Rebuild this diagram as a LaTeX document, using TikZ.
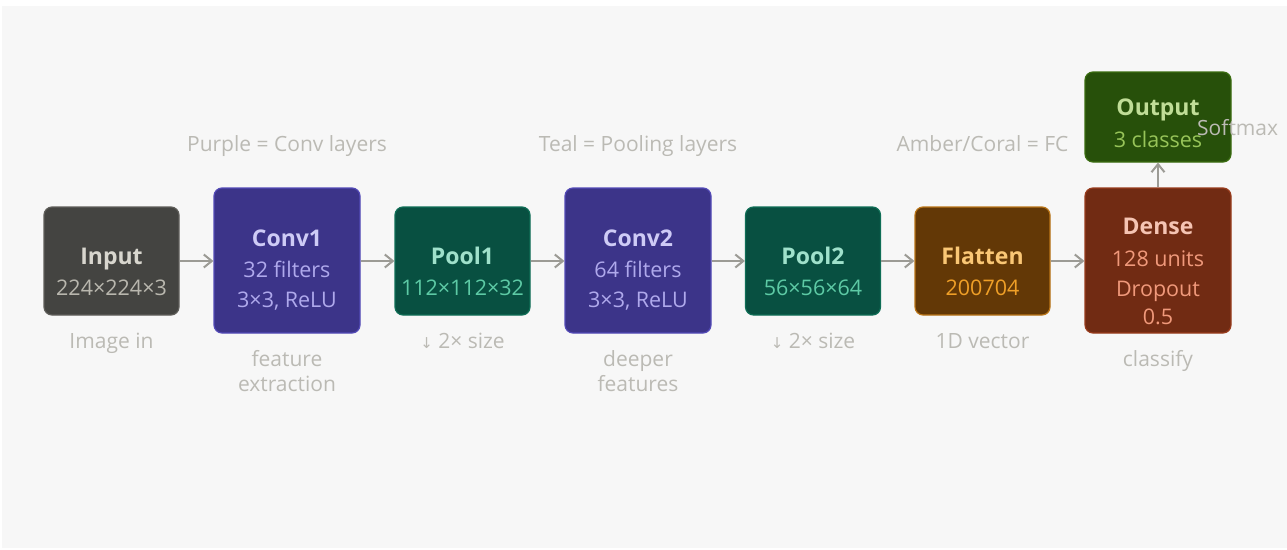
\documentclass[tikz,border=0pt]{standalone}
\usepackage{fontspec}
\setmainfont{Open Sans}
\newfontfamily\symfont{DejaVu Sans}
\usetikzlibrary{arrows.meta}
\definecolor{bgc}{HTML}{F7F7F7}
\definecolor{lblc}{HTML}{BBBAB4}
\definecolor{arrc}{HTML}{9C9B95}
\definecolor{inF}{HTML}{444441}\definecolor{inD}{HTML}{5F5E5A}\definecolor{inT}{HTML}{D8D6CE}\definecolor{inS}{HTML}{B9B7AE}
\definecolor{cvF}{HTML}{3C3489}\definecolor{cvD}{HTML}{534AB7}\definecolor{cvT}{HTML}{CECBF6}\definecolor{cvS}{HTML}{AFA9EC}
\definecolor{plF}{HTML}{085041}\definecolor{plD}{HTML}{0F6E56}\definecolor{plT}{HTML}{9FE1CB}\definecolor{plS}{HTML}{5DCAA5}
\definecolor{flF}{HTML}{633806}\definecolor{flD}{HTML}{BA7517}\definecolor{flT}{HTML}{FAC775}\definecolor{flS}{HTML}{EF9F27}
\definecolor{dnF}{HTML}{712B13}\definecolor{dnD}{HTML}{993C1D}\definecolor{dnT}{HTML}{F5C4B3}\definecolor{dnS}{HTML}{F0997B}
\definecolor{otF}{HTML}{27500A}\definecolor{otD}{HTML}{3B6D11}\definecolor{otT}{HTML}{C0DD97}\definecolor{otS}{HTML}{97C459}
\begin{document}
\begin{tikzpicture}[x=1pt,y=-1pt,
  boxbase/.style={rounded corners=8pt, line width=1.2pt, inner sep=0pt},
  boxS/.style={boxbase, minimum width=135pt, minimum height=108pt},
  boxL/.style={boxbase, minimum width=146pt, minimum height=145pt},
  boxO/.style={boxbase, minimum width=146pt, minimum height=90pt},
  ttl/.style={inner sep=0pt, anchor=base, font=\fontsize{23}{28}\selectfont\bfseries},
  sub/.style={inner sep=0pt, anchor=base, font=\fontsize{21.5}{27}\selectfont},
  lbl/.style={inner sep=0pt, anchor=base, text=lblc, align=center, font=\fontsize{21}{25.5}\selectfont},
  arr/.style={draw=arrc, line width=2pt, -{Straight Barb[length=8pt,width=13pt]}}
]
\useasboundingbox (0,0) rectangle (1287,549);
\fill[white] (0,0) rectangle (1287,549);
\fill[bgc] (2,6) rectangle (1287,548);

% boxes
\node[boxS, fill=inF, draw=inD] (input) at (111.5,261) {};
\node[boxL, fill=cvF, draw=cvD] (conv1) at (287,260.5) {};
\node[boxS, fill=plF, draw=plD] (pool1) at (462.5,261) {};
\node[boxL, fill=cvF, draw=cvD] (conv2) at (638,260.5) {};
\node[boxS, fill=plF, draw=plD] (pool2) at (813,261) {};
\node[boxS, fill=flF, draw=flD] (flat) at (982.5,261) {};
\node[boxL, fill=dnF, draw=dnD] (dense) at (1158,260.5) {};
\node[boxO, fill=otF, draw=otD] (output) at (1158,117) {};

% box texts
\node[ttl, text=inT] (inputT) at (111.5,264) {Input};
\node[sub, text=inS] (inputS) at (111.5,295.5) {224×224×3};

\node[ttl, text=cvT] (conv1T) at (287,246) {Conv1};
\node[sub, text=cvS] (conv1S) at (287,277.5) {32 filters};
\node[sub, text=cvS] (conv1R) at (287,307.5) {3×3, ReLU};

\node[ttl, text=plT] (pool1T) at (462.5,264) {Pool1};
\node[sub, text=plS] (pool1S) at (462.5,295.5) {112×112×32};

\node[ttl, text=cvT] (conv2T) at (638,246) {Conv2};
\node[sub, text=cvS] (conv2S) at (638,277.5) {64 filters};
\node[sub, text=cvS] (conv2R) at (638,307.5) {3×3, ReLU};

\node[ttl, text=plT] (pool2T) at (813,264) {Pool2};
\node[sub, text=plS] (pool2S) at (813,295.5) {56×56×64};

\node[ttl, text=flT] (flatT) at (982.5,264) {Flatten};
\node[sub, text=flS] (flatS) at (982.5,295.5) {200704};

\node[ttl, text=dnT] (denseT) at (1158,234.5) {Dense};
\node[sub, text=dnS] (denseS) at (1158,266.5) {128 units};
\node[sub, text=dnS] (denseD) at (1158,296) {Dropout};
\node[sub, text=dnS] (denseP) at (1158,324) {0.5};

\node[ttl, text=otT] (outputT) at (1158,115) {Output};
\node[sub, text=otS] (outputS) at (1158,147) {3 classes};
\node[lbl, anchor=base west] (softmax) at (1197,135) {Softmax};

% legend labels
\node[lbl] (legConv) at (287,151) {Purple = Conv layers};
\node[lbl] (legPool) at (638,151) {Teal = Pooling layers};
\node[lbl] (legFC) at (982.5,151) {Amber/Coral = FC};

% captions
\node[lbl] (capIn) at (111.5,348.5) {Image in};
\node[lbl] (capC1) at (287,391.5) {feature\\extraction};
\node[lbl] (capP1) at (462.5,348.5) {{\symfont\fontsize{15}{20}\selectfont ↓} 2× size};
\node[lbl] (capC2) at (638,391.5) {deeper\\features};
\node[lbl] (capP2) at (813,348.5) {{\symfont\fontsize{15}{20}\selectfont ↓} 2× size};
\node[lbl] (capFl) at (982.5,348.5) {1D vector};
\node[lbl] (capDn) at (1158,366.5) {classify};

% arrows
\draw[arr] (input.east) -- (conv1.west |- input.east);
\draw[arr] (conv1.east |- pool1.west) -- (pool1.west);
\draw[arr] (pool1.east) -- (conv2.west |- pool1.east);
\draw[arr] (conv2.east |- pool2.west) -- (pool2.west);
\draw[arr] (pool2.east) -- (flat.west);
\draw[arr] (flat.east) -- (dense.west |- flat.east);
\draw[arr] (dense.north) -- (output.south);
\end{tikzpicture}
\end{document}
